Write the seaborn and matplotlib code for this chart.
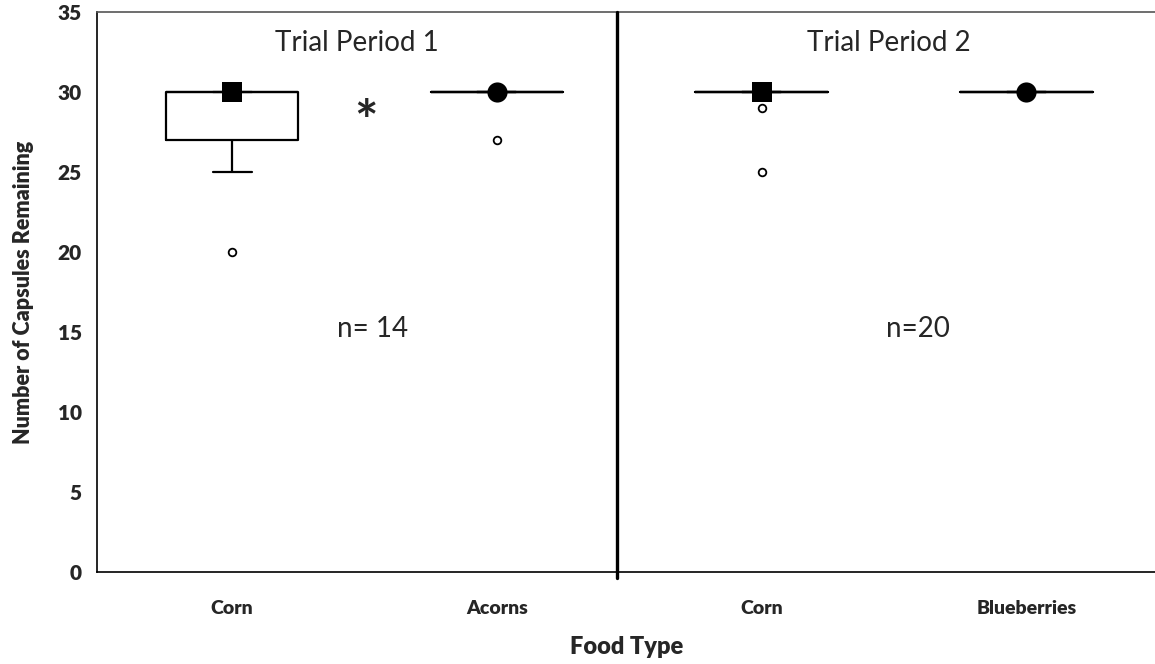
import pandas as pd
import numpy as np
import seaborn as sns
import matplotlib.pyplot as plt

# capsules remaining per site (counts out of 30)
corn_p1 = [20, 25, 27, 27, 27, 29, 30, 30, 30, 30, 30, 30, 30, 30]          # n = 14
acorns_p1 = [27] + [30] * 13                                                 # n = 14
corn_p2 = [25, 29] + [30] * 18                                               # n = 20
blueberries_p2 = [30] * 20                                                   # n = 20

groups = ['Corn (1)', 'Acorns', 'Corn (2)', 'Blueberries']
tick_labels = ['Corn', 'Acorns', 'Corn', 'Blueberries']
samples = [corn_p1, acorns_p1, corn_p2, blueberries_p2]

# centre markers drawn on each box (square = corn, circle = alternative food)
centre_values = [30, 30, 30, 30]
centre_markers = ['s', 'o', 's', 'o']

period_labels = ['Trial Period 1', 'Trial Period 2']
n_labels = ['n= 14', 'n=20']

df = pd.DataFrame({
    'group': np.repeat(groups, [len(s) for s in samples]),
    'value': np.concatenate(samples),
})
dm = pd.DataFrame({'group': groups, 'value': centre_values, 'marker': centre_markers})

sns.set_style('white')
plt.rcParams['font.family'] = ['Lato', 'DejaVu Sans']

fig = plt.figure(figsize=(11.55, 6.64), dpi=100)
ax = fig.add_axes([0.084, 0.1386, 0.917, 0.8434])

sns.boxplot(
    data=df, x='group', y='value', order=groups, ax=ax,
    fill=False, width=0.5, color='black', linecolor='black', linewidth=1.6,
    whis=1.5, capwidths=0.147,
    flierprops=dict(marker='o', markersize=5.5, markerfacecolor='white',
                    markeredgecolor='black', markeredgewidth=1.3),
)

for m in ['s', 'o']:
    sns.stripplot(data=dm[dm.marker == m], x='group', y='value', order=groups,
                  marker=m, size=14.5, color='black', jitter=False, ax=ax, zorder=5)

ax.set_xlim(-0.51, 3.49)
ax.set_ylim(0, 35)
ax.set_yticks(np.arange(0, 36, 5))
ax.set_xticks(range(len(groups)), labels=tick_labels)
ax.tick_params(axis='both', length=0)
ax.tick_params(axis='y', pad=11, labelsize=15)
ax.tick_params(axis='x', pad=20, labelsize=14)
for lab in ax.get_xticklabels() + ax.get_yticklabels():
    lab.set_fontweight('heavy')

ax.set_xlabel('Food Type', fontsize=17, fontweight='heavy', labelpad=14)
ax.set_ylabel('Number of Capsules Remaining', fontsize=15.5, fontweight='heavy', labelpad=17)

for side in ['left', 'bottom']:
    ax.spines[side].set_color('black')
    ax.spines[side].set_linewidth(1.2)
ax.spines['top'].set_color('#555555')
ax.spines['top'].set_linewidth(1.2)
ax.spines['right'].set_visible(False)

# divider between trial periods
ax.axvline(1.455, ymin=-0.01, ymax=1, color='black', linewidth=2.4, clip_on=False, zorder=6)

ax.text(0.47, 33.05, period_labels[0], ha='center', va='center', fontsize=20)
ax.text(2.48, 33.05, period_labels[1], ha='center', va='center', fontsize=20)
ax.text(0.53, 15.2, n_labels[0], ha='center', va='center', fontsize=20)
ax.text(2.59, 15.2, n_labels[1], ha='center', va='center', fontsize=20)
ax.text(0.506, 28.0, '*', ha='center', va='center', fontsize=40, fontweight='bold')

fig.savefig('out.png', dpi=100)
plt.close()
